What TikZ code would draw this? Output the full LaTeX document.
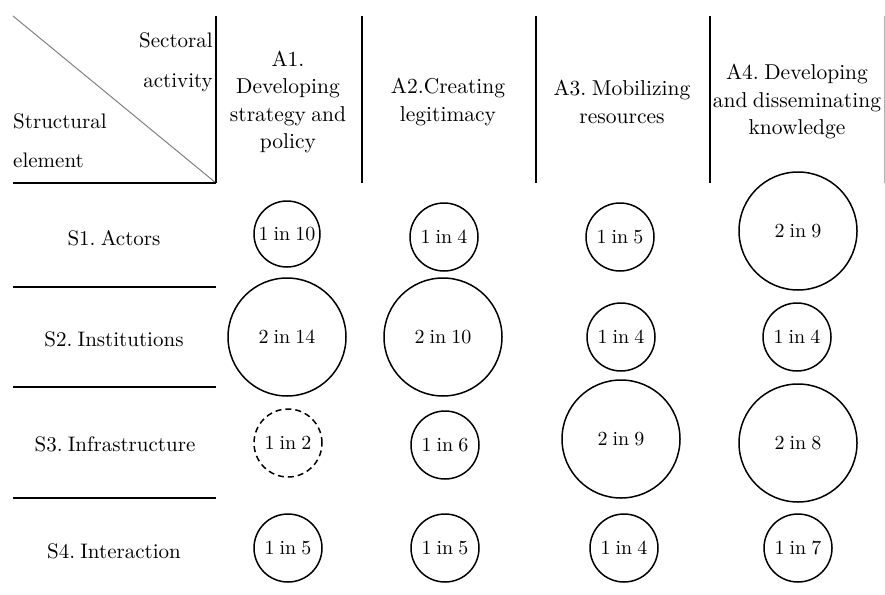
\documentclass[tikz,border=0pt]{standalone}
\usepackage{fontspec}
\setmainfont{lmroman10-regular.otf}[WordSpace=0.75]
\usetikzlibrary{positioning}
\begin{document}
\frenchspacing
\begin{tikzpicture}[x=1pt,y=-1pt,
  rule/.style={line width=1.7pt,black},
  hdr/.style={font=\fontsize{21.5}{27.5}\selectfont,align=center,inner sep=0pt},
  rowlab/.style={font=\fontsize{21}{25}\selectfont,inner sep=0pt},
  small/.style={circle,draw,line width=1.5pt,minimum size=68pt,inner sep=0pt,font=\fontsize{20}{24}\selectfont},
  big/.style={circle,draw,line width=1.5pt,minimum size=118pt,inner sep=0pt,font=\fontsize{20}{24}\selectfont},
  ]
\useasboundingbox (0,0) rectangle (885,594);
% header frame
\coordinate (tl) at (13,16);
\coordinate (br) at (216,183);
\coordinate (bl) at (13,183);
\draw[gray,line width=1pt] (tl) -- (br);
\draw[rule] (bl) -- (br);
\foreach \x in {216,362,536,710} \draw[rule] (\x,16) -- (\x,183);
\draw[gray!60,line width=1pt] (884,16) -- (884,183);
% header texts
\node[rowlab,anchor=base east] (sec) at (213,48) {Sectoral};
\node[rowlab,anchor=base east] (act) at (213,87) {activity};
\node[rowlab,anchor=base west] (str) at (13,128) {Structural};
\node[rowlab,anchor=base west] (ele) at (13,167) {element};
\node[hdr] (A1) at (288,102) {A1.\\Developing\\strategy and\\policy};
\node[hdr] (A2) at (448,102) {A2.Creating\\legitimacy};
\node[hdr] (A3) at (622,102) {A3. Mobilizing\\resources};
\node[hdr] (A4) at (797,102) {A4. Developing\\and disseminating\\knowledge};
% row separators
\foreach \y in {287,387,498} \draw[rule] (13,\y) -- (216,\y);
% row labels
\node[rowlab] (S1) at (114,238) {S1. Actors};
\node[rowlab] (S2) at (114,339) {S2. Institutions};
\node[rowlab] (S3) at (115,444) {S3. Infrastructure};
\node[rowlab] (S4) at (114,551) {S4. Interaction};
% circles
\node[small,minimum size=66pt] (c11) at (287,234) {1 in 10};
\node[big] (c12) at (287,337) {2 in 14};
\node[small,dashed,dash pattern=on 6pt off 4pt] (c13) at (288,443) {1 in 2};
\node[small] (c14) at (288,548) {1 in 5};
\node[small] (c21) at (444,237) {1 in 4};
\node[big] (c22) at (443,337) {2 in 10};
\node[small] (c23) at (445,445) {1 in 6};
\node[small] (c24) at (445,548) {1 in 5};
\node[small] (c31) at (620,237) {1 in 5};
\node[small] (c32) at (621,337) {1 in 4};
\node[big] (c33) at (621,439) {2 in 9};
\node[small] (c34) at (624,548) {1 in 4};
\node[big] (c41) at (798,231) {2 in 9};
\node[small] (c42) at (797,337) {1 in 4};
\node[big] (c43) at (798,443) {2 in 8};
\node[small] (c44) at (798,548) {1 in 7};
\end{tikzpicture}
\end{document}
